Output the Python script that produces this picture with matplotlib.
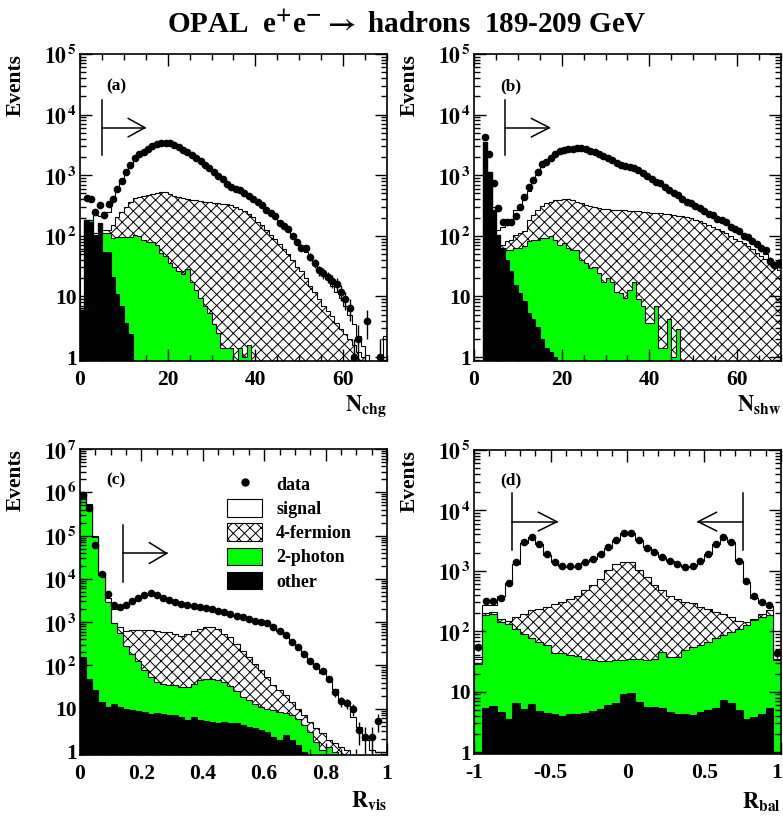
import numpy as np
import matplotlib
matplotlib.use("Agg")
import matplotlib.pyplot as plt
from matplotlib.ticker import MultipleLocator, LogLocator, NullFormatter, FuncFormatter
from matplotlib.patches import Patch
from matplotlib.lines import Line2D
import matplotlib.transforms as mtransforms

plt.rcParams['font.family'] = ['Liberation Serif', 'DejaVu Serif']
plt.rcParams['font.weight'] = 'bold'
plt.rcParams['mathtext.fontset'] = 'stix'
plt.rcParams['mathtext.default'] = 'bf'
plt.rcParams['hatch.linewidth'] = 0.7

GREEN = '#00ff00'
FLOOR = 1e-3

# ---- (a) charged multiplicity, bins of 1 from 0 to 70
a_edges = np.arange(0, 71, 1)
a_data = [0, 420, 400, 250, 320, 220, 340, 400, 600, 800,
          1130, 1500, 1900, 2250, 2450, 2700, 3000, 3230, 3390, 3400,
          3350, 3100, 2900, 2600, 2400, 2150, 1900, 1720, 1480, 1300,
          1120, 980, 850, 720, 640, 590, 560, 500, 450, 410,
          360, 320, 270, 240, 215, 165, 145, 128, 100, 80,
          64, 62, 45, 35, 27, 24, 21, 18, 16, 12,
          9, 6.5, 1, 2, 0, 4, 0, 0, 1, 0]
a_total = [57, 185, 180, 220, 210, 250, 250, 390, 600, 820,
           1120, 1480, 1880, 2250, 2550, 2850, 3100, 3300, 3400, 3380,
           3300, 3120, 2900, 2650, 2400, 2150, 1920, 1720, 1500, 1310,
           1130, 990, 860, 740, 650, 580, 540, 490, 445, 400,
           350, 310, 265, 235, 205, 170, 145, 122, 100, 82,
           66, 55, 44, 35, 29, 23, 19, 15, 12, 9.5,
           7, 5, 3.5, 2.2, 1.5, 1.1, 0, 0, 0, 2.2]
a_fourf = [6.5, 185, 180, 110, 165, 125, 125, 150, 208, 250,
           300, 365, 415, 440, 460, 470, 490, 510, 535, 525,
           490, 450, 440, 415, 400, 390, 385, 375, 365, 360,
           350, 345, 340, 330, 320, 300, 280, 255, 225, 205,
           171, 150, 125, 105, 88, 72, 60, 50, 40, 31,
           26, 20, 15, 12, 9, 7, 5.7, 4.8, 3.7, 2.9,
           2.4, 2.0, 1.6, 1.2, 1.0, 0, 0, 0, 0, 0]
a_twoph = [6.5, 185, 180, 105, 165, 110, 110, 92, 95, 95,
           95, 95, 104, 100, 85, 80, 78, 71, 52, 46,
           36, 30, 26, 23, 28, 17, 13, 9.5, 7, 5.4,
           3.5, 2.5, 1.4, 1.4, 1.4, 0, 1.4, 1.0, 1.6, 0] + [0] * 30
a_other = [6, 180, 170, 100, 160, 55, 55, 21, 11, 7, 3.7, 2.4] + [0] * 58

# ---- (b) shower multiplicity
b_edges = np.arange(0, 71, 1)
b_data = [0, 0, 4250, 2200, 730, 285, 172, 172, 166, 213,
          295, 440, 645, 830, 1130, 1550, 1660, 1950, 2280, 2500,
          2630, 2750, 2750, 2850, 2850, 2700, 2550, 2400, 2200, 2100,
          1950, 1770, 1600, 1480, 1420, 1380, 1300, 1200, 1070, 960,
          850, 780, 730, 645, 565, 515, 470, 400, 365, 345,
          310, 285, 260, 230, 220, 188, 182, 166, 142, 129,
          122, 100, 95, 83, 74, 63, 58, 38, 33, 35]
b_total = [0, 0, 3500, 1130, 300, 125, 140, 160, 185, 265,
           290, 415, 540, 730, 1000, 1370, 1700, 1950, 2250, 2450,
           2600, 2700, 2750, 2800, 2800, 2700, 2550, 2400, 2250, 2100,
           1950, 1780, 1620, 1480, 1400, 1330, 1250, 1150, 1050, 950,
           860, 780, 720, 650, 575, 515, 465, 410, 365, 335,
           305, 280, 255, 230, 210, 190, 175, 160, 140, 125,
           112, 100, 90, 78, 68, 58, 50, 42, 36, 30]
b_fourf = [0, 0, 3500, 1130, 265, 104, 71, 81, 86, 104,
           110, 118, 183, 220, 265, 310, 345, 365, 390, 390,
           400, 400, 390, 365, 345, 325, 310, 295, 285, 280,
           275, 270, 268, 265, 262, 258, 255, 252, 248, 245,
           242, 238, 235, 230, 225, 220, 215, 210, 205, 195,
           185, 175, 165, 152, 140, 130, 120, 110, 100, 90,
           82, 76, 68, 60, 52, 46, 41, 36, 31, 27]
b_twoph = [0, 0, 3500, 1130, 265, 104, 63, 59, 59, 63,
           63, 69, 81, 86, 86, 91, 91, 98, 86, 71,
           76, 63, 59, 59, 40, 36, 29, 31, 24, 17,
           20, 17, 12, 11.5, 9.5, 13, 17, 9, 7, 3.7,
           3.7, 7, 1.4, 1.4, 4.2, 1, 2.9, 0, 0, 0] + [0] * 20
b_other = [0, 0, 3500, 1130, 265, 104, 63, 40, 26, 15.7,
           11.5, 8.4, 5.4, 4.2, 3.1, 2.0, 1.4, 1.2, 1.0] + [0] * 51

# ---- (c) visible energy fraction
c_edges = np.linspace(0, 1, 51)
c_data = [8.5e5, 4.4e5, 6.0e4, 1.3e4, 4450, 2500, 2200, 2500, 3100, 3700,
          4300, 4600, 4300, 3700, 3200, 2860, 2620, 2460, 2400, 2200,
          2130, 2000, 1830, 1690, 1550, 1420, 1290, 1180, 1080, 1030,
          940, 790, 640, 505, 345, 265, 185, 125, 95, 74,
          49, 24, 15, 13.5, 10, 3.2, 2.2, 2.2, 5.2, 0]
c_total = [9.6e5, 5.4e5, 9.7e4, 1.3e4, 3700, 2000, 2100, 2450, 3000, 3700,
           4200, 4500, 4300, 3800, 3250, 2900, 2650, 2450, 2350, 2200,
           2100, 1950, 1800, 1680, 1540, 1400, 1280, 1170, 1080, 1000,
           900, 760, 620, 480, 350, 260, 180, 120, 90, 65,
           45, 29, 16, 12, 6.5, 3.8, 1.9, 1.1, 1.0, 0]
c_fourf = [9.3e5, 5.2e5, 9.5e4, 1.2e4, 2900, 950, 760, 640, 660, 660,
           660, 660, 640, 590, 590, 535, 490, 535, 640, 700,
           760, 760, 700, 535, 450, 315, 220, 155, 110, 77,
           54, 35, 27, 20.5, 14.4, 10, 7.1, 5, 3.5, 2.7,
           1.9, 1.6, 1.3, 1.1, 0, 0, 0, 0, 0, 0]
c_twoph = [9.3e5, 5.2e5, 9.5e4, 1.2e4, 2900, 950, 560, 280, 180, 125,
           80, 55, 42, 38, 35, 35, 32, 32, 38, 45,
           49, 49, 47, 41, 33, 26, 18.6, 15.7, 13, 11,
           10, 9.3, 8.5, 7.8, 7.1, 5.9, 4.2, 2.9, 1.7, 1.1,
           1.3, 1.0, 0, 0, 0, 0, 0, 0, 0, 0]
c_other = [155, 49, 27, 14.4, 11, 13, 11, 10, 9.2, 8.9,
           8.4, 7.7, 7.8, 7.7, 7.1, 7.3, 6.5, 5.4, 6.5, 5.4,
           5.2, 5.0, 4.7, 4.9, 4.6, 4.6, 4.2, 3.8, 3.5, 3.2,
           2.9, 2.25, 1.9, 2.5, 1.9, 1.45, 1.0, 0, 0, 0] + [0] * 10

# ---- (d) momentum balance
d_edges = np.linspace(-1, 1, 41)
d_data = [55, 316, 316, 360, 630, 1400, 3000, 3700, 2800, 1870,
          1400, 1180, 1180, 1180, 1400, 1580, 1920, 2460, 3300, 4300,
          4300, 3300, 2400, 2050, 1700, 1450, 1280, 1150, 1180, 1480,
          1900, 2800, 3700, 3000, 1480, 680, 380, 300, 270, 43]
d_total = [38, 270, 275, 380, 640, 1320, 2900, 3600, 2800, 1850,
           1400, 1180, 1170, 1200, 1380, 1600, 1950, 2400, 3300, 4200,
           4200, 3300, 2450, 2050, 1700, 1450, 1280, 1150, 1180, 1480,
           1900, 2750, 3600, 3000, 1450, 650, 360, 290, 260, 35]
d_fourf = [35, 200, 205, 162, 150, 172, 195, 222, 237, 252,
           280, 305, 345, 390, 475, 575, 740, 1020, 1320, 1400,
           1400, 1050, 790, 575, 475, 390, 345, 305, 290, 250,
           230, 210, 195, 172, 150, 142, 162, 195, 222, 33]
d_twoph = [29, 183, 195, 142, 134, 110, 91, 76, 66, 59,
           44, 43, 40, 39, 35, 33, 32, 32, 33, 34,
           35, 35, 33, 35, 46, 38, 38, 49, 55, 59,
           66, 76, 86, 97, 110, 125, 151, 172, 183, 33]
d_other = [0, 5.3, 5.8, 4.6, 3.6, 6.5, 5.1, 6.2, 4.8, 4.5,
           4.2, 4.0, 4.2, 4.3, 4.5, 4.8, 5.1, 6.1, 6.5, 9.3,
           9.6, 6.8, 5.6, 5.6, 5.3, 4.6, 4.35, 4.2, 4.1, 4.6,
           4.9, 5.3, 7.2, 6.4, 4.9, 3.6, 3.8, 4.35, 5.3, 0]

XPAD = 6.5   # points between axis and x tick labels


def draw_stack(ax, edges, total, fourf, twoph, other):
    # stacked MC drawn from the top layer down, like ROOT's THStack
    layers = [(total, dict(facecolor='white')),
              (fourf, dict(facecolor='white', hatch='xxx')),
              (twoph, dict(facecolor=GREEN)),
              (other, dict(facecolor='black'))]
    for vals, kw in layers:
        v = np.asarray(vals, float)
        v = np.where(v > 0, v, FLOOR)
        ax.stairs(v, edges, baseline=FLOOR, fill=True, edgecolor='black',
                  linewidth=0.8, **kw)


def draw_data(ax, edges, data):
    d = np.asarray(data, float)
    x = 0.5 * (edges[1:] + edges[:-1])
    m = d > 0
    err = np.sqrt(d[m])
    lo = np.minimum(err, d[m] - FLOOR)
    ax.errorbar(x[m], d[m], yerr=[lo, err], fmt='o', color='black', ms=4.5,
                elinewidth=1.0, capsize=0, zorder=5)


def ylab(v, pos):
    e = int(round(np.log10(v)))
    if e == 0:
        return '1'
    if e == 1:
        return '10'
    return r'$\mathbf{10^{\,%d}}$' % e


def style(ax, xlim, ylim, xmaj, xmin, skip_last=False):
    ax.set_yscale('log')
    ax.set_xlim(*xlim)
    ax.set_ylim(*ylim)
    ax.xaxis.set_major_locator(MultipleLocator(xmaj))
    ax.xaxis.set_minor_locator(MultipleLocator(xmin))
    hi = xlim[1]
    ax.xaxis.set_major_formatter(FuncFormatter(
        lambda v, p: '' if (skip_last and abs(v - hi) < 1e-9) else '%g' % v))
    ax.yaxis.set_major_locator(LogLocator(base=10, numticks=20))
    ax.yaxis.set_minor_locator(LogLocator(base=10, subs=np.arange(2, 10), numticks=100))
    ax.yaxis.set_minor_formatter(NullFormatter())
    ax.yaxis.set_major_formatter(FuncFormatter(ylab))
    ax.tick_params(which='both', direction='in', top=True, right=True, width=1.0)
    ax.tick_params(which='major', length=8.5, labelsize=15.5)
    ax.tick_params(axis='x', which='major', pad=XPAD)
    ax.tick_params(axis='y', which='major', pad=2)
    ax.tick_params(which='minor', length=4.5)
    for s in ax.spines.values():
        s.set_linewidth(1.2)
    ax.text(-0.21, 1.0, 'Events', transform=ax.transAxes, rotation=90,
            ha='center', va='top', fontsize=15.5)


def cut_arrow(ax, xcut, xtip, xbase, yv, yh, yhead):
    tr = mtransforms.blended_transform_factory(ax.transData, ax.transAxes)
    kw = dict(color='black', lw=1.1, transform=tr, clip_on=False)
    ax.plot([xcut, xcut], yv, **kw)
    ax.plot([xcut, xtip], [yh, yh], **kw)
    ax.plot([xbase, xtip, xbase], [yhead[0], yh, yhead[1]], **kw)


fig = plt.figure(figsize=(7.83, 8.18), dpi=100)
W, H = 0.392, 0.3753
axa = fig.add_axes([0.1022, 0.5587, W, H])
axb = fig.add_axes([0.6054, 0.5587, W, H])
axc = fig.add_axes([0.1022, 0.0770, W, 0.3741])
axd = fig.add_axes([0.6054, 0.0782, W, 0.3717])

draw_stack(axa, a_edges, a_total, a_fourf, a_twoph, a_other)
draw_data(axa, a_edges, a_data)
style(axa, (0, 70), (0.86, 1e5), 20, 5)
cut_arrow(axa, 5, 14.8, 11.0, [0.671, 0.850], 0.760, (0.790, 0.730))

draw_stack(axb, b_edges, b_total, b_fourf, b_twoph, b_other)
draw_data(axb, b_edges, b_data)
style(axb, (0, 70), (0.86, 1e5), 20, 5)
cut_arrow(axb, 7, 17.2, 13.1, [0.671, 0.850], 0.760, (0.790, 0.730))

draw_stack(axc, c_edges, c_total, c_fourf, c_twoph, c_other)
draw_data(axc, c_edges, c_data)
style(axc, (0, 1), (0.85, 1e7), 0.2, 0.05)
cut_arrow(axc, 0.14, 0.282, 0.226, [0.566, 0.752], 0.659, (0.694, 0.626))

draw_stack(axd, d_edges, d_total, d_fourf, d_twoph, d_other)
draw_data(axd, d_edges, d_data)
style(axd, (-1, 1), (0.93, 1e5), 0.5, 0.1, skip_last=True)
cut_arrow(axd, -0.75, -0.46, -0.58, [0.671, 0.858], 0.764, (0.795, 0.734))
cut_arrow(axd, 0.75, 0.46, 0.58, [0.671, 0.858], 0.764, (0.795, 0.734))
# last tick label of (d), nudged left so it stays inside the figure
axd.annotate('1', xy=(1, 0), xycoords='axes fraction', xytext=(-3, -XPAD),
             textcoords='offset points', ha='center', va='top', fontsize=15.5)

for ax, lab, y in [(axa, '(a)', 0.893), (axb, '(b)', 0.893), (axc, '(c)', 0.899), (axd, '(d)', 0.901)]:
    ax.text(0.085, y, lab, transform=ax.transAxes, fontsize=12.5, ha='left', va='center')

for ax, lab, y in [(axa, r'$\mathbf{N_{chg}}$', -0.105), (axb, r'$\mathbf{N_{shw}}$', -0.105),
                   (axc, r'$\mathbf{R_{vis}}$', -0.112), (axd, r'$\mathbf{R_{bal}}$', -0.122)]:
    ax.text(1.0, y, lab, transform=ax.transAxes, fontsize=16, ha='right', va='top')

handles = [Line2D([], [], marker='o', color='black', linestyle='none', markersize=5),
           Patch(facecolor='white', edgecolor='black', linewidth=0.8),
           Patch(facecolor='white', edgecolor='black', hatch='xxx', linewidth=0.8),
           Patch(facecolor=GREEN, edgecolor='black', linewidth=0.8),
           Patch(facecolor='black', edgecolor='black', linewidth=0.8)]
labels = ['data', 'signal', '4-fermion', '2-photon', 'other']
axc.legend(handles, labels, loc='upper left', bbox_to_anchor=(0.48, 0.915),
           frameon=False, fontsize=13, handlelength=1.9, handleheight=1.1,
           labelspacing=0.3, handletextpad=0.8, borderaxespad=0, borderpad=0)

fig.text(0.52, 0.969, r'OPAL  e$^{+}$e$^{-}$$\rightarrow$ hadrons  189-209 GeV',
         ha='center', va='center', fontsize=21)

fig.savefig('out.png', dpi=100)
